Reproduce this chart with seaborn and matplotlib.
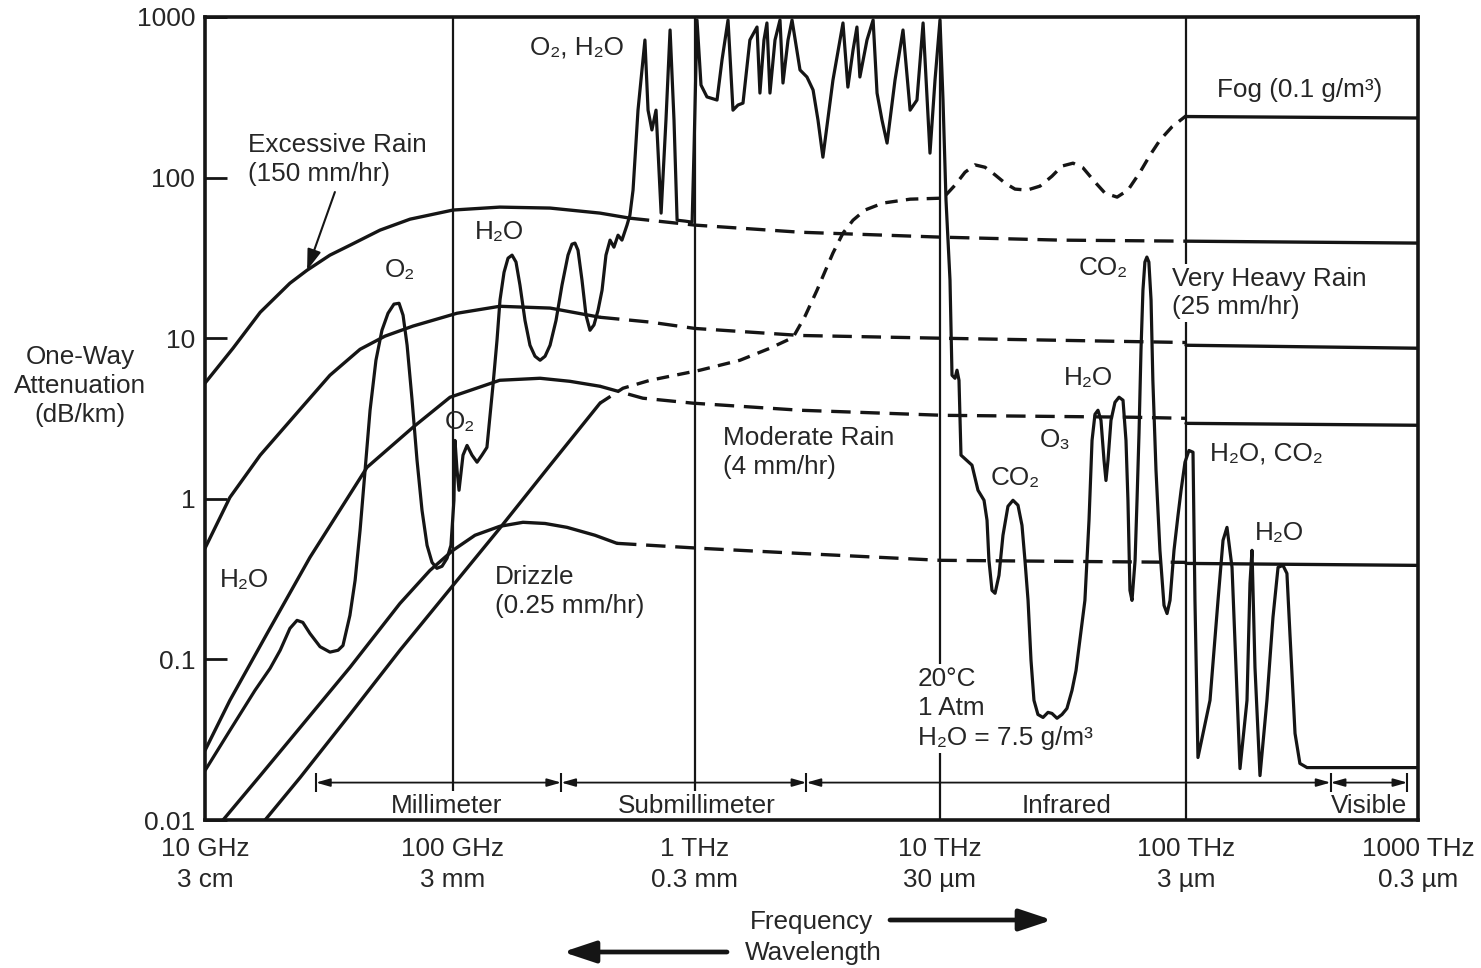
import matplotlib
matplotlib.use("Agg")
import matplotlib.pyplot as plt
from matplotlib.ticker import NullLocator, FixedLocator, FixedFormatter
import numpy as np
import seaborn as sns

INK = "#151515"
TEXT = "#262626"

# ---------------------------------------------------------------------------
# Axes: frequency in GHz, one-way attenuation in dB/km
# ---------------------------------------------------------------------------
FREQ_TICKS = [1e1, 1e2, 1e3, 1e4, 1e5, 1e6]
FREQ_LABELS = ["10 GHz\n3 cm", "100 GHz\n3 mm", "1 THz\n0.3 mm",
               "10 THz\n30 µm", "100 THz\n3 µm", "1000 THz\n0.3 µm"]
ATTEN_TICKS = [0.01, 0.1, 1, 10, 100, 1000]
ATTEN_LABELS = ["0.01", "0.1", "1", "10", "100", "1000"]

# Spectral bands drawn along the bottom of the plot
BAND_EDGES = [28, 280, 2850, 420000, 900000]
BAND_NAMES = ["Millimeter", "Submillimeter", "Infrared", "Visible"]
BAND_LABEL_F = [94.6, 1020, 32830, 615000]

# ---------------------------------------------------------------------------
# Rain and fog attenuation (solid = computed, dashed = extrapolated)
# ---------------------------------------------------------------------------
EXCESSIVE_F = [10, 12.97, 16.7, 22.0, 25.8, 31.9, 38.4, 50.8, 67.1, 100, 156, 252, 405, 538]
EXCESSIVE_A = [5.25, 8.66, 14.5, 22.0, 26.5, 32.9, 37.9, 47.1, 55.1, 62.8, 65.5, 64.6, 60.1, 55.9]
EXCESSIVE_EXT_F = [538, 1000, 2683, 10000, 30760, 100000]
EXCESSIVE_EXT_A = [55.9, 50.6, 45.7, 42.6, 40.8, 40.2]
EXCESSIVE_OPT_F = [1e5, 1e6]
EXCESSIVE_OPT_A = [40.2, 39.1]

HEAVY_F = [10, 12.6, 16.7, 24.2, 31.9, 42.2, 53.2, 69.0, 103.9, 156, 252, 405]
HEAVY_A = [0.492, 1.02, 1.87, 3.61, 5.88, 8.53, 10.3, 11.9, 14.3, 15.8, 15.4, 13.5]
HEAVY_EXT_F = [405, 651, 1000, 2683, 10000, 100000]
HEAVY_EXT_A = [13.5, 12.6, 11.5, 10.4, 10.0, 9.4]
HEAVY_OPT_F = [1e5, 1e6]
HEAVY_OPT_A = [9.04, 8.66]

MODERATE_F = [10, 12.6, 17.8, 26.5, 45.0, 69.0, 97.3, 156, 229, 304, 405]
MODERATE_A = [0.0271, 0.0556, 0.145, 0.432, 1.57, 2.79, 4.29, 5.47, 5.63, 5.39, 5.02]
MODERATE_EXT_F = [405, 609, 980, 2683, 10285, 61000, 100000]
MODERATE_EXT_A = [5.02, 4.23, 3.94, 3.56, 3.31, 3.22, 3.17]
MODERATE_OPT_F = [1e5, 1e6]
MODERATE_OPT_A = [2.95, 2.87]

DRIZZLE_F = [11.5, 16.7, 24.2, 38.4, 61.1, 80.7, 100, 123.3, 156, 194.6, 240, 296, 386, 476]
DRIZZLE_A = [0.0095, 0.0189, 0.0377, 0.0891, 0.223, 0.358, 0.478, 0.593, 0.674, 0.714,
             0.702, 0.664, 0.593, 0.528]
DRIZZLE_EXT_F = [476, 1048, 2683, 10000, 100000]
DRIZZLE_EXT_A = [0.528, 0.492, 0.457, 0.414, 0.402]
DRIZZLE_OPT_F = [1e5, 1e6]
DRIZZLE_OPT_A = [0.396, 0.385]

FOG_F = [17.0, 24.2, 38.4, 61.1, 100, 156, 252, 405]
FOG_A = [0.0095, 0.0184, 0.0454, 0.114, 0.289, 0.655, 1.62, 3.94]
FOG_EXT_F = [405, 504, 652, 1048, 1526, 2023, 2512, 2812, 3148, 3396, 3656, 4018, 4416, 4940,
             5848, 7551, 10285, 11507, 12640, 13880, 15240, 16740, 18380, 20180, 22590, 25500,
             28510, 31330, 34750, 38140, 42660, 46860, 52480, 58080, 65010, 71420, 78340,
             87700, 101000]
FOG_EXT_A = [3.94, 4.88, 5.47, 6.32, 7.29, 8.66, 10.1, 13.7, 19.9, 26.1, 33.9, 45.1, 54.3,
             62.8, 69.4, 73.4, 74.5, 89.7, 108, 120, 116, 104, 92.4, 84.8, 83.6, 88.5, 102,
             118, 123, 115, 93.8, 80.0, 75.6, 83.6, 108, 138, 171, 207, 245]
FOG_OPT_F = [1e5, 1e6]
FOG_OPT_A = [240, 235]

# ---------------------------------------------------------------------------
# Clear-air gaseous absorption (20 °C, 1 atm, 7.5 g/m3 water vapour)
# ---------------------------------------------------------------------------
# millimetre region: 22 GHz H2O, 60 / 118 GHz O2, 183 / 325 GHz H2O
GAS_MM_F = [10.0, 12.6, 15.9, 18.3, 20.1, 22.0, 23.5, 24.8, 26.5, 29.1, 31.9, 34.4, 36.0,
            38.4, 40.3, 42.2, 44.2, 46.3, 48.9, 51.7, 54.7, 57.8, 60.6, 62.9, 65.3, 68.4,
            71.6, 75.0, 78.6, 82.3, 86.1, 90.3, 94.6, 98.1, 100.9, 101.9, 103.9, 105.9, 110,
            114.3, 119.8, 125.7, 131.7, 138.1, 146.3, 152.0, 156.4, 162.5, 168.8, 175.4,
            182.1, 189.1, 198.4, 208.0, 218.2, 229.0, 240.1, 251.8, 266.5, 282.1, 298.7,
            310.2, 319.2, 328.5, 341.2, 354.5, 368.1, 382.5, 397.4, 413, 428.6, 445.6, 462.4,
            480.8, 499, 523.6, 538.3]
GAS_MM_A = [0.0203, 0.0361, 0.0641, 0.0879, 0.114, 0.156, 0.175, 0.170, 0.145, 0.120, 0.111,
            0.114, 0.122, 0.188, 0.311, 0.637, 1.51, 3.56, 7.29, 11.2, 14.3, 16.3, 16.5, 13.9,
            9.04, 4.11, 1.74, 0.848, 0.513, 0.402, 0.369, 0.380, 0.426, 0.513, 0.979, 2.31,
            1.51, 1.13, 1.87, 2.15, 1.87, 1.69, 1.87, 2.09, 5.10, 9.72, 17.3, 25.7, 31.5, 32.9,
            29.8, 21.4, 12.9, 9.04, 7.72, 7.29, 7.72, 9.04, 12.9, 21.4, 32.9, 38.5, 39.1,
            35.3, 23.0, 13.9, 11.2, 12.1, 14.9, 19.9, 32.9, 40.8, 36.9, 43.8, 40.8, 50.6, 58.4]

# submillimetre region: dense rotational water-vapour lines
GAS_SUBMM_F = [554.6, 581.4, 621, 639.7, 663.7, 690.2, 724.4, 758.6, 788.9, 818.9, 843.4,
               909.3, 973, 990.6, 1019, 1058, 1119, 1230, 1289, 1364, 1429, 1498, 1570, 1675,
               1791, 1841, 1912, 1966, 2023, 2121, 2223, 2286, 2397, 2489, 2683, 2864, 3034,
               3177, 3327, 3656, 4018, 4207, 4416, 4581, 4710, 5035, 5333, 5534, 5798, 6081,
               6551, 7063, 7551, 8054, 8531, 9102, 9541, 10000]
GAS_SUBMM_A = [83.6, 263, 719, 263, 198, 263, 60.1, 228, 830, 228, 54.3, 53.6, 52.8, 148,
               958, 377, 318, 304, 540, 958, 263, 283, 291, 719, 866, 336, 719, 918, 336, 719,
               958, 388, 719, 958, 468, 423, 351, 228, 134, 404, 918, 366, 622, 866, 423, 719,
               958, 336, 228, 164, 404, 830, 263, 304, 918, 142, 404, 958]

# infrared and visible: CO2, O3 and H2O bands
GAS_IR_F = [10285, 10578, 10981, 11189, 11507, 11725, 11946, 12170, 13490, 14270, 15100,
            15530, 15810, 16270, 16740, 17370, 18030, 18890, 19800, 20750, 21540, 22150,
            22800, 23440, 24100, 25010, 26230, 27480, 28510, 29900, 31330, 32810, 34400,
            35720, 38820, 40340, 41500, 42660, 43870, 45120, 46420, 47280, 48190, 49550,
            51440, 53420, 55460, 57020, 58080, 59180, 60330, 62090, 63230, 64420, 65620,
            66830, 68070, 69340, 70640, 72100, 73330, 75510, 78340, 81400, 83750, 86100,
            89380, 92800, 95500, 99060, 103000, 107200, 109300, 112600, 126900, 137400,
            144400, 150200, 157900, 164300, 170900, 183200, 188700, 192500, 198300, 208400,
            223300, 237100, 249300, 261800, 272300, 280500, 295100, 309700, 332400, 1000000]
GAS_IR_A = [304, 72.4, 23.0, 5.88, 5.63, 6.32, 5.47, 1.87, 1.62, 1.13, 0.979, 0.735, 0.414,
            0.269, 0.258, 0.334, 0.593, 0.898, 0.979, 0.912, 0.684, 0.414, 0.233, 0.0986,
            0.0556, 0.0454, 0.0435, 0.0468, 0.0461, 0.0430, 0.0454, 0.0495, 0.0641, 0.0853,
            0.233, 0.735, 2.31, 3.36, 3.56, 3.08, 1.74, 1.30, 1.74, 3.08, 3.99, 4.29, 4.11,
            2.31, 0.979, 0.269, 0.233, 0.414, 0.979, 2.56, 8.41, 19.9, 29.8, 32.0, 29.8, 17.3,
            5.47, 1.51, 0.478, 0.217, 0.193, 0.233, 0.478, 0.789, 1.13, 1.69, 2.0, 1.95, 0.233,
            0.0245, 0.0556, 0.233, 0.551, 0.664, 0.374, 0.0891, 0.0209, 0.0556, 0.298, 0.478,
            0.0891, 0.0189, 0.0556, 0.183, 0.374, 0.385, 0.343, 0.145, 0.0346, 0.0225,
            0.0212, 0.0212]

# ---------------------------------------------------------------------------
# The printed frequency axis is logarithmic, but its decades are not all
# the same width; map each decade onto its own printed width.
# ---------------------------------------------------------------------------
DECADE_LOG = np.array([1.0, 2.0, 3.0, 4.0, 5.0, 6.0])
DECADE_POS = np.cumsum([0.0, 248, 242, 245, 246, 232])


def _freq_to_pos(x):
    x = np.asarray(x, float)
    with np.errstate(divide="ignore", invalid="ignore"):
        lx = np.log10(np.where(x > 0, x, np.nan))
    pos = np.interp(lx, DECADE_LOG, DECADE_POS)
    lo = lx < DECADE_LOG[0]
    hi = lx > DECADE_LOG[-1]
    pos = np.where(lo, DECADE_POS[0] + (lx - DECADE_LOG[0]) * 248.0, pos)
    pos = np.where(hi, DECADE_POS[-1] + (lx - DECADE_LOG[-1]) * 232.0, pos)
    return pos


def _pos_to_freq(p):
    p = np.asarray(p, float)
    lx = np.interp(p, DECADE_POS, DECADE_LOG)
    lx = np.where(p < DECADE_POS[0], DECADE_LOG[0] + (p - DECADE_POS[0]) / 248.0, lx)
    lx = np.where(p > DECADE_POS[-1], DECADE_LOG[-1] + (p - DECADE_POS[-1]) / 232.0, lx)
    return 10.0 ** lx


# ---------------------------------------------------------------------------
sns.set_theme(style="white")
plt.rcParams["font.family"] = ["Liberation Sans", "DejaVu Sans"]
plt.rcParams["lines.scale_dashes"] = False
plt.rcParams["text.color"] = TEXT

FS = 18.8
RAIN_DASH = (0, (14, 7))
FOG_DASH = (0, (9, 6))
LW = 2.4

fig = plt.figure(figsize=(14.81, 9.68), dpi=100)
fig.patch.set_facecolor("white")
ax = fig.add_axes([0.13842, 0.15289, 0.81904, 0.82955])
ax.set_facecolor("white")
ax.set_xscale("function", functions=(_freq_to_pos, _pos_to_freq))
ax.set_yscale("log")
ax.set_xlim(FREQ_TICKS[0], FREQ_TICKS[-1])
ax.set_ylim(ATTEN_TICKS[0], ATTEN_TICKS[-1])


def trace(f, a, dash=None, lw=LW):
    kw = dict(color=INK, linewidth=lw, estimator=None, sort=False, ax=ax, legend=False,
              zorder=2)
    if dash is not None:
        kw["linestyle"] = dash
        kw["dash_capstyle"] = "butt"
    sns.lineplot(x=np.asarray(f, float), y=np.asarray(a, float), **kw)


# decade divisions
for f in FREQ_TICKS[1:-1]:
    ax.axvline(f, color=INK, lw=1.6, zorder=1)

trace(EXCESSIVE_F, EXCESSIVE_A)
trace(EXCESSIVE_EXT_F, EXCESSIVE_EXT_A, RAIN_DASH)
trace(EXCESSIVE_OPT_F, EXCESSIVE_OPT_A)

trace(HEAVY_F, HEAVY_A)
trace(HEAVY_EXT_F, HEAVY_EXT_A, RAIN_DASH)
trace(HEAVY_OPT_F, HEAVY_OPT_A)

trace(MODERATE_F, MODERATE_A)
trace(MODERATE_EXT_F, MODERATE_EXT_A, RAIN_DASH)
trace(MODERATE_OPT_F, MODERATE_OPT_A)

trace(DRIZZLE_F, DRIZZLE_A)
trace(DRIZZLE_EXT_F, DRIZZLE_EXT_A, RAIN_DASH)
trace(DRIZZLE_OPT_F, DRIZZLE_OPT_A)

trace(FOG_F, FOG_A)
trace(FOG_EXT_F, FOG_EXT_A, FOG_DASH)
trace(FOG_OPT_F, FOG_OPT_A)

trace(GAS_MM_F + GAS_SUBMM_F + GAS_IR_F, GAS_MM_A + GAS_SUBMM_A + GAS_IR_A, lw=2.3)

# spectral band bar
band_y = 0.0171
for e0, e1 in zip(BAND_EDGES[:-1], BAND_EDGES[1:]):
    ax.annotate("", xy=(e1, band_y), xytext=(e0, band_y),
                arrowprops=dict(arrowstyle="<|-|>,head_length=0.7,head_width=0.2",
                                mutation_scale=12, lw=1.3, color=INK,
                                shrinkA=0, shrinkB=0))
ax.vlines(BAND_EDGES, band_y / 1.14, band_y * 1.14, color=INK, lw=1.5)

# labels that sit on a decade line mask it (drawn above the grid, below the curves)
white_box = dict(boxstyle="square,pad=0.1", fc="white", ec="none")
for fx, name in zip(BAND_LABEL_F, BAND_NAMES):
    ax.text(fx, 0.0123, name, ha="center", va="center", fontsize=FS, bbox=white_box,
            zorder=1.5)

# curve annotations
txt = dict(fontsize=FS, va="center")
ax.text(325, 650, "O₂, H₂O", ha="center", **txt)
ax.text(14.9, 130, "Excessive Rain\n(150 mm/hr)", ha="left", linespacing=1.25, **txt)
ax.annotate("", xy=(25.8, 26.5), xytext=(33.4, 81.3),
            arrowprops=dict(arrowstyle="-|>,head_length=0.9,head_width=0.3",
                            mutation_scale=14, lw=1.5, color=INK, shrinkA=0, shrinkB=0))
ax.text(156, 45.7, "H₂O", ha="center", **txt)
ax.text(61.1, 26.5, "O₂", ha="center", **txt)
ax.text(106.9, 3.0, "O₂", ha="center", **txt)
ax.text(14.4, 0.311, "H₂O", ha="center", **txt)
ax.text(149, 0.266, "Drizzle\n(0.25 mm/hr)", ha="left", linespacing=1.25, **txt)
ax.text(1301, 1.95, "Moderate Rain\n(4 mm/hr)", ha="left", linespacing=1.25, **txt)
ax.text(45980, 27.3, "CO₂", ha="center", **txt)
ax.text(87700, 19.1, "Very Heavy Rain\n(25 mm/hr)", ha="left", linespacing=1.25,
        bbox=white_box, zorder=1.5, **txt)
ax.text(136000, 351, "Fog (0.1 g/m³)", ha="left", **txt)
ax.text(40000, 5.63, "H₂O", ha="center", **txt)
ax.text(29340, 2.31, "O₃", ha="center", **txt)
ax.text(20180, 1.34, "CO₂", ha="center", **txt)
ax.text(126900, 1.92, "H₂O, CO₂", ha="left", **txt)
ax.text(254000, 0.61, "H₂O", ha="center", **txt)
ax.text(8128, 0.0495, "20°C\n1 Atm\nH₂O = 7.5 g/m³", ha="left", linespacing=1.3,
        bbox=white_box, zorder=1.5, **txt)

# axes styling
for s in ax.spines.values():
    s.set_color(INK)
    s.set_linewidth(2.6)
    s.set_zorder(3)
ax.xaxis.set_major_locator(FixedLocator(FREQ_TICKS))
ax.xaxis.set_major_formatter(FixedFormatter(FREQ_LABELS))
ax.yaxis.set_major_locator(FixedLocator(ATTEN_TICKS))
ax.yaxis.set_major_formatter(FixedFormatter(ATTEN_LABELS))
ax.xaxis.set_minor_locator(NullLocator())
ax.yaxis.set_minor_locator(NullLocator())
ax.tick_params(axis="x", length=0, pad=12, labelsize=FS, labelcolor=TEXT)
ax.tick_params(axis="y", direction="in", length=16, width=2.0, color=INK, pad=7,
               labelsize=19, labelcolor=TEXT, left=True)
for lab in ax.get_xticklabels():
    lab.set_linespacing(1.4)
ax.grid(False)

fig.text(80 / 1481, 1 - 386 / 968, "One-Way\nAttenuation\n(dB/km)", ha="center",
         va="center", fontsize=FS, linespacing=1.25)

# direction arrows under the axis
fig.text(812 / 1481, 1 - 922 / 968, "Frequency", ha="center", va="center", fontsize=FS)
fig.text(813 / 1481, 1 - 953 / 968, "Wavelength", ha="center", va="center", fontsize=FS)
arrow = dict(arrowstyle="-|>,head_length=0.9,head_width=0.3", mutation_scale=22,
             lw=3.4, color=INK, shrinkA=0, shrinkB=0)
fig.add_artist(plt.Annotation("", xy=(1052 / 1481, 1 - 920 / 968),
                              xytext=(890 / 1481, 1 - 920 / 968),
                              xycoords="figure fraction", textcoords="figure fraction",
                              arrowprops=arrow))
fig.add_artist(plt.Annotation("", xy=(563 / 1481, 1 - 952 / 968),
                              xytext=(727 / 1481, 1 - 952 / 968),
                              xycoords="figure fraction", textcoords="figure fraction",
                              arrowprops=arrow))

fig.savefig("out.png", dpi=100, facecolor="white")
